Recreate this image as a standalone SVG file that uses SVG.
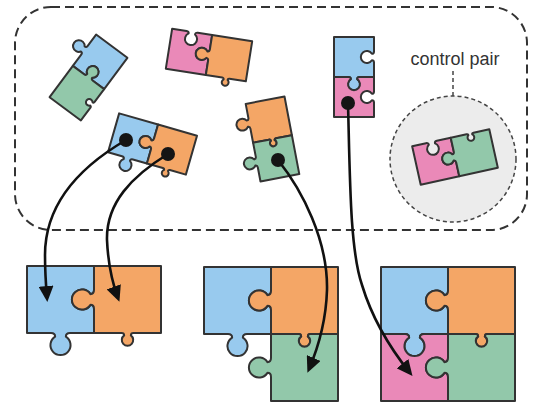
<svg xmlns="http://www.w3.org/2000/svg" xmlns:xlink="http://www.w3.org/1999/xlink" width="538" height="404" viewBox="0 0 538 404">
  <style>
    .pc { stroke: #333; stroke-width: 2; stroke-linejoin: round; vector-effect: non-scaling-stroke; }
    .big .pc { stroke-width: 2.3; }
    .blue { fill: #98caee; }
    .orange { fill: #f4a666; }
    .green { fill: #92c8aa; }
    .pink { fill: #ea89b8; }
    .dot { fill: #151515; }
    .arrow { fill: none; stroke: #111; stroke-width: 2.6; marker-end: url(#head); }
    .frame { fill: none; stroke: #333; stroke-width: 2; stroke-dasharray: 9 5; }
    .label { font-family: "Liberation Sans", Arial, sans-serif; font-size: 18px; fill: #333; }
  </style>
  <defs>
    <marker id="head" markerUnits="userSpaceOnUse" viewBox="0 0 16 15" refX="12" refY="7.5" markerWidth="16" markerHeight="15" orient="auto">
      <path d="M0,0 L16,7.5 L0,15 Z" fill="#111"/>
    </marker>
    <!-- puzzle pieces drawn on a 100x100 cell -->
    <path id="p-blue" class="pc blue" d="M0,0 H100 V36 C100,40 98,42 94.7,42 A15,15 0 1 0 94.7,58 C98,58 100,60 100,64 V100 H64 C60,100 58,102 58,105.3 A15,15 0 1 1 42,105.3 C42,102 40,100 36,100 H0 Z"/>
    <path id="p-orange" class="pc orange" d="M0,0 H100 V100 H59 C56,100 55,102 55,103.6 A8.5,8.5 0 1 1 45,103.6 C45,102 44,100 41,100 H0 V64 C0,60 -2,58 -5.3,58 A15,15 0 1 1 -5.3,42 C-2,42 0,40 0,36 Z"/>
    <path id="p-green" class="pc green" d="M0,0 H41 C44,0 45,2 45,3.6 A8.5,8.5 0 1 0 55,3.6 C55,2 56,0 59,0 H100 V100 H0 V64 C0,60 -2,58 -5.3,58 A15,15 0 1 1 -5.3,42 C-2,42 0,40 0,36 Z"/>
    <path id="p-pink" class="pc pink" d="M0,0 H36 C40,0 42,2 42,5.3 A15,15 0 1 0 58,5.3 C58,2 60,0 64,0 H100 V36 C100,40 98,42 94.7,42 A15,15 0 1 0 94.7,58 C98,58 100,60 100,64 V100 H0 Z"/>
  </defs>

  <rect width="538" height="404" fill="#ffffff"/>

  <!-- pool of loose pairs -->
  <rect class="frame" x="15" y="7" width="512" height="223" rx="36" ry="36"/>

  <g id="pair-blue-green" transform="translate(88.5,77.5) rotate(126.6) scale(0.39) translate(-100,-50)">
    <use href="#p-blue"/>
    <use href="#p-green" x="100"/>
  </g>

  <g id="pair-pink-orange" transform="translate(209,55) rotate(9) scale(0.405) translate(-100,-50)">
    <use href="#p-pink"/>
    <use href="#p-orange" x="100"/>
  </g>

  <g id="pair-blue-orange" transform="translate(152.5,144) rotate(16) scale(0.405) translate(-100,-50)">
    <use href="#p-blue"/>
    <use href="#p-orange" x="100"/>
  </g>

  <g id="pair-orange-green" transform="translate(272.5,139) rotate(-10.8) scale(0.395) translate(-50,-100)">
    <use href="#p-orange"/>
    <use href="#p-green" y="100"/>
  </g>

  <g id="pair-blue-pink" transform="translate(354,77) scale(0.4) translate(-50,-100)">
    <use href="#p-blue"/>
    <use href="#p-pink" y="100"/>
  </g>

  <g id="control-pair">
    <line x1="453" y1="71" x2="453" y2="96" stroke="#444" stroke-width="1.5" stroke-dasharray="4 3"/>
    <circle cx="453" cy="159" r="63" fill="#ececec" stroke="#444" stroke-width="1.5" stroke-dasharray="4 3"/>
    <text class="label" x="455" y="65" text-anchor="middle">control pair</text>
    <g transform="translate(455,157) rotate(-12.5) scale(0.395) translate(-100,-50)">
      <use href="#p-pink"/>
      <use href="#p-green" x="100"/>
    </g>
  </g>

  <!-- assembled targets -->
  <g id="target-2" class="big" transform="translate(27,266) scale(0.67)">
    <use href="#p-blue"/>
    <use href="#p-orange" x="100"/>
  </g>

  <g id="target-3" class="big" transform="translate(204,267) scale(0.67)">
    <use href="#p-blue"/>
    <use href="#p-orange" x="100"/>
    <use href="#p-green" x="100" y="100"/>
  </g>

  <g id="target-4" class="big" transform="translate(381,267) scale(0.67)">
    <use href="#p-blue"/>
    <use href="#p-orange" x="100"/>
    <use href="#p-pink" y="100"/>
    <use href="#p-green" x="100" y="100"/>
  </g>

  <!-- connectors -->
  <g id="connectors">
    <path class="arrow" d="M126,140 C78,168 45,205 45,255 C45,272 46,286 47,298"/>
    <path class="arrow" d="M168,154 C132,176 106,203 107,240 C108,262 112,282 118,298"/>
    <path class="arrow" d="M278,160 C302,190 328,240 327,290 C326,322 318,348 309,369"/>
    <path class="arrow" d="M348,103 C350,180 350,250 362,285 C372,318 390,348 410,373"/>
    <circle class="dot" cx="126" cy="140" r="7"/>
    <circle class="dot" cx="168" cy="154" r="7"/>
    <circle class="dot" cx="278" cy="160" r="7"/>
    <circle class="dot" cx="348" cy="103" r="7"/>
  </g>
</svg>
